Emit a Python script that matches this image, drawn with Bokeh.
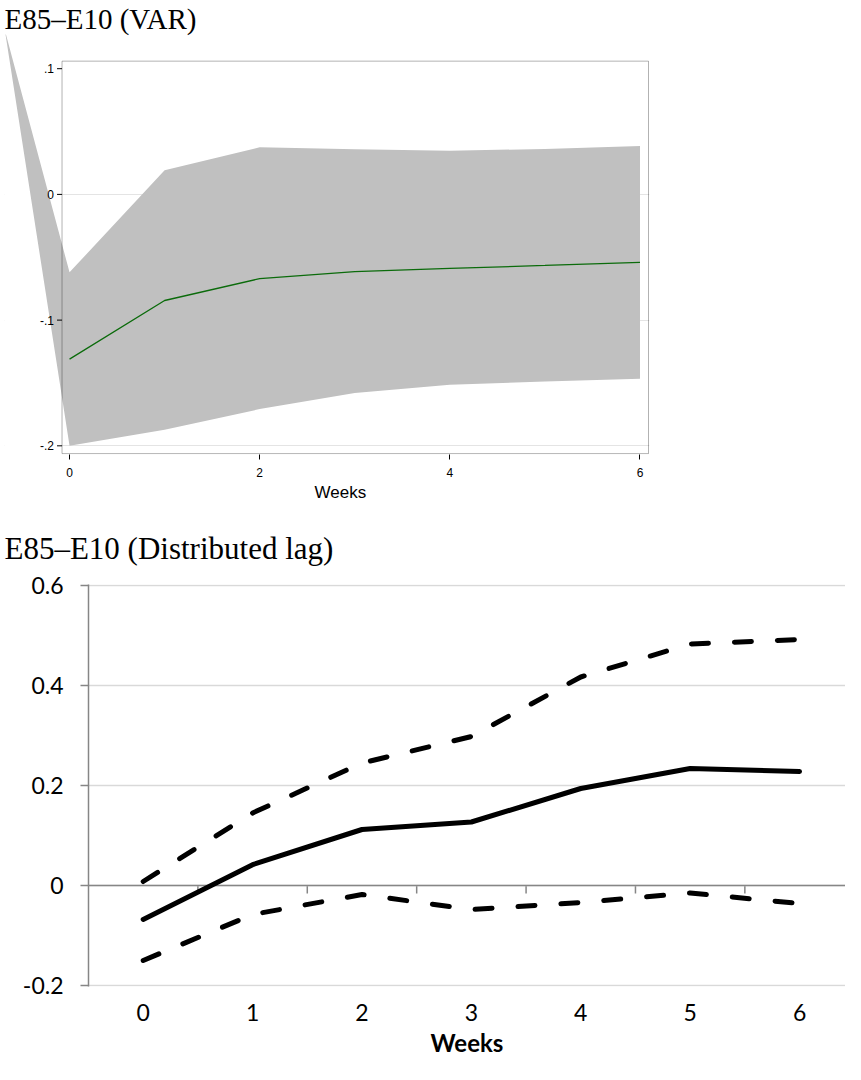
from bokeh.plotting import figure
from bokeh.layouts import column
from bokeh.models import (FixedTicker, CustomJSTickFormatter, Span, BoxAnnotation, Grid, Title)
from bokeh.core.properties import value
from bokeh.embed import file_html
from bokeh.resources import INLINE

# ---------------- data ----------------
weeks = [0, 1, 2, 3, 4, 5, 6]

# VAR impulse response (top panel)
var_irf = [-0.131, -0.0844, -0.067, -0.0615, -0.0589, -0.0565, -0.054]
var_upper = [-0.062, 0.0193, 0.0375, 0.036, 0.0347, 0.0362, 0.0385]
var_lower = [-0.200, -0.1873, -0.1708, -0.158, -0.1515, -0.1488, -0.1466]
var_artifact_x = -0.68     # stray polygon vertex visible in the original
var_artifact_y = 0.1305
var_xticks = [0, 2, 4, 6]
var_yticks = [0.1, 0, -0.1, -0.2]
var_grid = [0, -0.1, -0.2]

# Distributed lag (bottom panel)
dl_coef = [-0.068, 0.0416, 0.112, 0.127, 0.194, 0.234, 0.228]
dl_upper = [0.008, 0.145, 0.245, 0.298, 0.417, 0.483, 0.492]
dl_lower = [-0.150, -0.058, -0.018, -0.048, -0.034, -0.015, -0.036]
dl_yticks = [-0.2, 0, 0.2, 0.4, 0.6]


def stata_label(v):
    if abs(v) < 1e-9:
        return "0"
    return ("%.1f" % v).replace("0.", ".")


# ---------------- top panel (Stata style) ----------------
# plot-region box (data units) inside a wider frame so the stray band vertex can show
box_left, box_right, box_top, box_bottom = -0.0789, 6.0895, 0.106, -0.2062
px_x = 95.08  # pixels per week (for tick lengths)

p1 = figure(width=654, height=504, x_range=(-0.684, 6.1), y_range=(-0.2069, 0.1272),
            output_backend="svg", toolbar_location=None, tools="",
            y_axis_location=None,
            min_border_left=4, min_border_right=5, min_border_top=31, min_border_bottom=50)
p1.frame_align = False
p1.background_fill_color = "white"
p1.border_fill_color = "white"
p1.outline_line_color = None
p1.grid.visible = False

p1.title.text = "E85\u2013E10 (VAR)"
p1.title.text_font = "Liberation Serif"
p1.title.text_font_style = "normal"
p1.title.text_font_size = "29px"
p1.title.text_color = "black"
p1.title.align = "left"
p1.title.offset = 0
p1.title.standoff = 0

grid1 = Grid(dimension=1, ticker=FixedTicker(ticks=var_grid),
             grid_line_color="#e4e4e4", grid_line_width=1)
p1.add_layout(grid1)
cover = BoxAnnotation(right=box_left, fill_color="white", fill_alpha=1.0, line_color=None,
                      level="underlay")
p1.add_layout(cover)

band_x = weeks + [w for w in reversed(weeks)] + [var_artifact_x]
band_y = var_upper + [v for v in reversed(var_lower)] + [var_artifact_y]
p1.patch(band_x, band_y, fill_color="#c0c0c0", fill_alpha=1.0, line_color=None)

p1.line(weeks, var_irf, line_color="#0b6b0b", line_width=1.3)

# y axis of the plot region
tick_x0 = [box_left - 5 / px_x] * len(var_yticks)
tick_x1 = [box_left] * len(var_yticks)
p1.segment(x0=tick_x0, y0=var_yticks, x1=tick_x1, y1=var_yticks, line_color="black", line_width=1)
p1.text(x=[box_left - 8 / px_x] * len(var_yticks), y=var_yticks,
        text=[stata_label(v) for v in var_yticks],
        text_align="right", text_baseline="middle",
        text_font=value("Liberation Sans"), text_font_size="12px", text_color="black")

frame_box = BoxAnnotation(left=box_left, right=box_right, top=box_top, bottom=box_bottom,
                          fill_color=None, line_color="black", line_width=1)
p1.add_layout(frame_box)

xa = p1.xaxis[0]
xa.ticker = FixedTicker(ticks=var_xticks)
xa.axis_line_color = None
xa.major_tick_line_color = "black"
xa.major_tick_out = 5
xa.major_tick_in = 0
xa.minor_tick_line_color = None
xa.major_label_text_font = "Liberation Sans"
xa.major_label_text_font_size = "12px"
xa.major_label_text_color = "black"
xa.major_label_standoff = 8

# x-axis title placed under the plot-region box
weeks_title = Title(text="Weeks", align="left", offset=310,
                    text_font="Liberation Sans", text_font_size="17px",
                    text_font_style="normal", text_color="black", standoff=2)
p1.add_layout(weeks_title, "below")

# ---------------- bottom panel (Excel style) ----------------
p2 = figure(width=845, height=560, x_range=(-0.5, 6.42), y_range=(-0.202, 0.602),
            output_backend="svg", toolbar_location=None, tools="",
            min_border_left=88, min_border_right=0, min_border_top=80, min_border_bottom=78)
p2.frame_align = False
p2.background_fill_color = "white"
p2.border_fill_color = "white"
p2.outline_line_color = None

p2.title.text = "E85\u2013E10 (Distributed lag)"
p2.title.text_font = "Liberation Serif"
p2.title.text_font_style = "normal"
p2.title.text_font_size = "31px"
p2.title.text_color = "black"
p2.title.align = "left"
p2.title.offset = -84
p2.title.standoff = 37

p2.xgrid.visible = False
p2.ygrid.ticker = FixedTicker(ticks=dl_yticks)
p2.ygrid.grid_line_color = "#d9d9d9"
p2.ygrid.grid_line_width = 1.5

zero_axis = Span(location=0, dimension="width", line_color="#868686", line_width=1.5)
zero_axis.level = "underlay"
p2.add_layout(zero_axis)

tick_len = 8 / 500.0
bounds = [w + 0.5 for w in weeks[:-1]]
ticks_r = p2.segment(x0=bounds, y0=[0] * len(bounds), x1=bounds, y1=[-tick_len] * len(bounds),
                     line_color="#868686", line_width=1.5)
ticks_r.level = "underlay"

dash_style = dict(line_color="black", line_width=5, line_dash="17 26",
                  line_cap="round", line_join="round")
p2.line(weeks, dl_upper, **dash_style)
p2.line(weeks, dl_lower, **dash_style)
p2.line(weeks, dl_coef, line_color="black", line_width=5, line_cap="round", line_join="round")

p2.xaxis.ticker = FixedTicker(ticks=weeks)
p2.xaxis.axis_line_color = None
p2.xaxis.major_tick_line_color = None
p2.xaxis.minor_tick_line_color = None
p2.xaxis.major_tick_out = 0
p2.xaxis.major_tick_in = 0
p2.xaxis.major_label_standoff = 17
p2.xaxis.axis_label = "Weeks"
p2.xaxis.axis_label_standoff = 4
p2.xaxis.axis_label_text_font = "Lato"
p2.xaxis.axis_label_text_font_size = "24px"
p2.xaxis.axis_label_text_font_style = "bold"
p2.xaxis.axis_label_text_color = "black"

p2.yaxis.ticker = FixedTicker(ticks=dl_yticks)
p2.yaxis.formatter = CustomJSTickFormatter(
    code="if (Math.abs(tick) < 1e-9) { return '0'; } return tick.toFixed(1);")
p2.yaxis.axis_line_color = "#868686"
p2.yaxis.axis_line_width = 1.5
p2.yaxis.major_tick_line_color = "#868686"
p2.yaxis.major_tick_line_width = 1.5
p2.yaxis.major_tick_out = 8
p2.yaxis.major_tick_in = 0
p2.yaxis.minor_tick_line_color = None
p2.yaxis.major_label_standoff = 17

for ax in (p2.xaxis[0], p2.yaxis[0]):
    ax.major_label_text_font = "Lato"
    ax.major_label_text_font_size = "23px"
    ax.major_label_text_color = "black"

layout = column(p1, p2)
open("out.html", "w").write(file_html(layout, INLINE))
